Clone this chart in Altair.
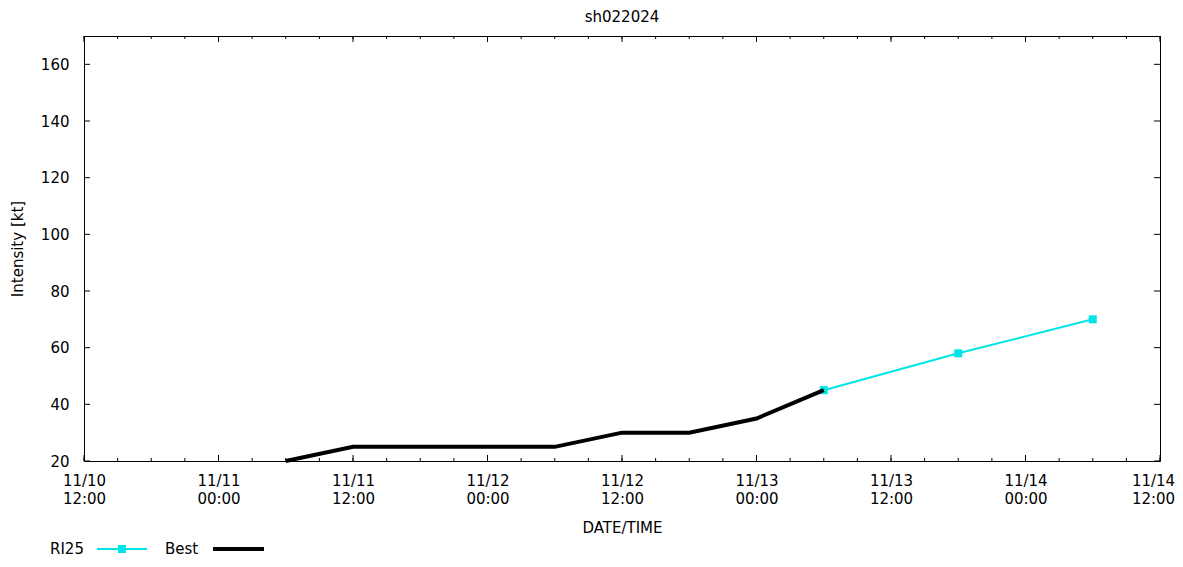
import altair as alt
import pandas as pd

# ---- data ----
best_time = ["2024-11-11T06:00:00Z", "2024-11-11T12:00:00Z", "2024-11-11T18:00:00Z",
             "2024-11-12T00:00:00Z", "2024-11-12T06:00:00Z", "2024-11-12T12:00:00Z",
             "2024-11-12T18:00:00Z", "2024-11-13T00:00:00Z", "2024-11-13T06:00:00Z"]
best_vmax = [20, 25, 25, 25, 25, 30, 30, 35, 45]

ri_time = ["2024-11-13T06:00:00Z", "2024-11-13T18:00:00Z", "2024-11-14T06:00:00Z"]
ri_vmax = [45, 58, 70]

x_start = "2024-11-10T12:00:00Z"
x_end = "2024-11-14T12:00:00Z"
y_ticks = [20, 40, 60, 80, 100, 120, 140, 160]

W, H = 1076, 425
FONT = "DejaVu Sans"
FS = 15
CYAN = "#00e5e5"

t0 = pd.Timestamp(x_start)
t1 = pd.Timestamp(x_end)
minor_times = pd.date_range(t0, t1, freq="3h")
major_times = pd.date_range(t0, t1, freq="12h")
major_ms = [int(t.timestamp() * 1000) for t in major_times]

best_df = pd.DataFrame({"time": best_time, "vmax": best_vmax})
ri_df = pd.DataFrame({"time": ri_time, "vmax": ri_vmax})
minor_df = pd.DataFrame({"time": [t.strftime("%Y-%m-%dT%H:%M:%SZ") for t in minor_times]})
major_df = pd.DataFrame({"time": [t.strftime("%Y-%m-%dT%H:%M:%SZ") for t in major_times]})
ytick_df = pd.DataFrame({"vmax": y_ticks})

xscale = alt.Scale(type="utc", domain=[x_start, x_end], nice=False)
yscale = alt.Scale(domain=[20, 170], nice=False, zero=False)

xaxis = alt.Axis(values=major_ms, grid=False, domain=False, ticks=False,
                 labelExpr="[utcFormat(datum.value,'%m/%d'), utcFormat(datum.value,'%H:%M')]",
                 labelLineHeight=18, labelPadding=12, labelFontSize=FS, labelFont=FONT,
                 labelColor="black", labelFlush=False, labelOverlap=False,
                 labelOffset={"condition": {"test": f"datum.value >= {major_ms[-1]}", "value": -7},
                              "value": 0},
                 title="DATE/TIME", titleFontSize=FS, titleFont=FONT, titleFontWeight="normal",
                 titlePadding=14, titleColor="black")
yaxis = alt.Axis(values=y_ticks, grid=False, domain=False, ticks=False,
                 labelPadding=15, labelFontSize=FS, labelFont=FONT, labelColor="black",
                 labelFlush=False,
                 title="Intensity [kt]", titleFontSize=FS, titleFont=FONT,
                 titleFontWeight="normal", titlePadding=15, titleColor="black")

X = alt.X("time:T", scale=xscale, axis=xaxis)
Y = alt.Y("vmax:Q", scale=yscale, axis=yaxis)

best = alt.Chart(best_df).mark_line(color="black", strokeWidth=4).encode(x=X, y=Y)
ri_line = alt.Chart(ri_df).mark_line(color=CYAN, strokeWidth=2).encode(x=X, y=Y)
ri_pts = alt.Chart(ri_df).mark_square(color=CYAN, size=64, opacity=1).encode(x=X, y=Y)

minor_bot = alt.Chart(minor_df).mark_rule(color="black", strokeWidth=1).encode(
    x=X, y=alt.value(H), y2=alt.value(H - 3))
minor_top = alt.Chart(minor_df).mark_rule(color="black", strokeWidth=1).encode(
    x=X, y=alt.value(0), y2=alt.value(3))
major_bot = alt.Chart(major_df).mark_rule(color="black", strokeWidth=1).encode(
    x=X, y=alt.value(H), y2=alt.value(H - 6))
major_top = alt.Chart(major_df).mark_rule(color="black", strokeWidth=1).encode(
    x=X, y=alt.value(0), y2=alt.value(6))
y_left = alt.Chart(ytick_df).mark_rule(color="black", strokeWidth=1).encode(
    y=Y, x=alt.value(0), x2=alt.value(6))
y_right = alt.Chart(ytick_df).mark_rule(color="black", strokeWidth=1).encode(
    y=Y, x=alt.value(W - 6), x2=alt.value(W))

# legend (decoration)
LEG_Y = 513
leg_df = pd.DataFrame({"k": [0]})
leg = alt.Chart(leg_df)
leg_ri_text = leg.mark_text(text="RI25", font=FONT, fontSize=FS, align="left",
                            baseline="middle", color="black").encode(
    x=alt.value(-34), y=alt.value(LEG_Y))
leg_ri_line = leg.mark_rule(color=CYAN, strokeWidth=2).encode(
    x=alt.value(13), x2=alt.value(63), y=alt.value(LEG_Y))
leg_ri_pt = leg.mark_square(color=CYAN, size=64, opacity=1).encode(
    x=alt.value(38), y=alt.value(LEG_Y))
leg_best_text = leg.mark_text(text="Best", font=FONT, fontSize=FS, align="left",
                              baseline="middle", color="black").encode(
    x=alt.value(81), y=alt.value(LEG_Y))
leg_best_line = leg.mark_rule(color="black", strokeWidth=4).encode(
    x=alt.value(129), x2=alt.value(180), y=alt.value(LEG_Y))

chart = alt.layer(
    ri_line, ri_pts, best,
    minor_bot, minor_top, major_bot, major_top, y_left, y_right,
    leg_ri_text, leg_ri_line, leg_ri_pt, leg_best_text, leg_best_line,
).properties(
    width=W, height=H,
    background="white",
    title=alt.Title("sh022024", font=FONT, fontSize=FS, fontWeight="normal",
                    color="black", anchor="middle", offset=11),
    autosize=alt.AutoSizeParams(type="none"),
    padding={"left": 76, "top": 28, "right": 15, "bottom": 98},
).configure_view(stroke="black", strokeWidth=1)

chart.save("out.html", embed_options={"renderer": "svg", "actions": False})
